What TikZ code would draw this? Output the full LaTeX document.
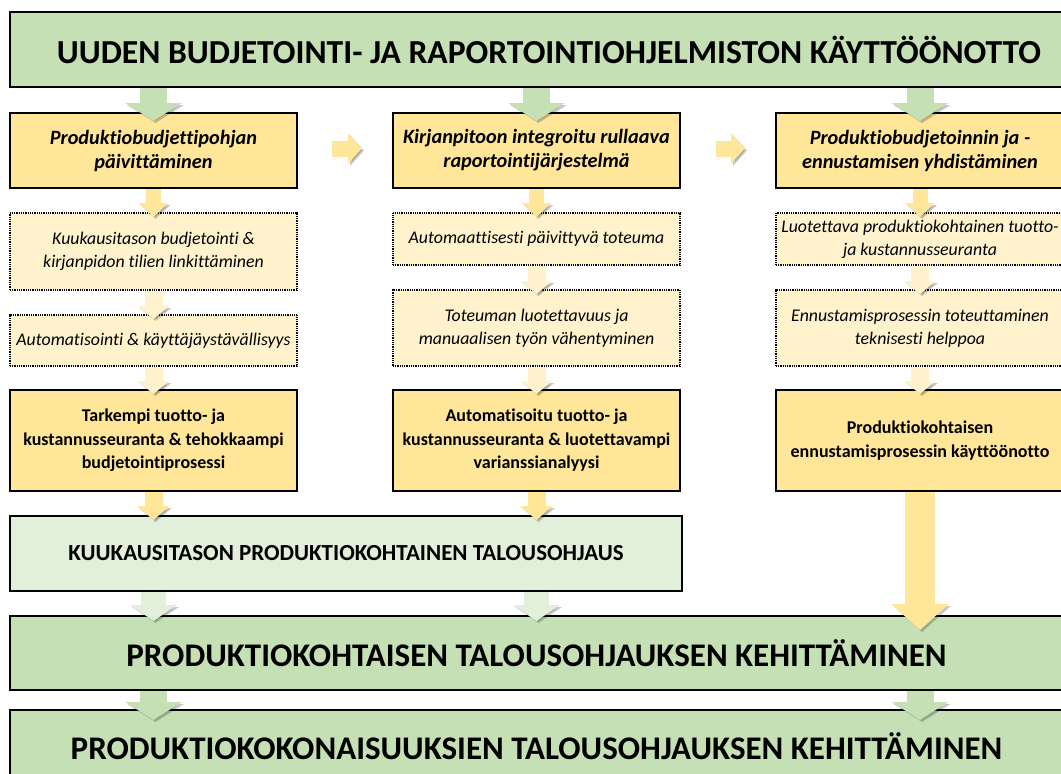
\documentclass[tikz,border=0pt]{standalone}
\usepackage{fontspec}
\setmainfont{Carlito}[Ligatures={NoCommon,NoContextual}]
\usetikzlibrary{arrows.meta}
\definecolor{bangreen}{HTML}{C5E0B4}
\definecolor{lightgreen}{HTML}{E2EFDA}
\definecolor{gold}{HTML}{FFE699}
\definecolor{cream}{HTML}{FFF2CC}
\begin{document}
\begin{tikzpicture}[x=1pt,y=-1pt,
  base/.style={anchor=north west, inner sep=0pt, outer sep=0pt, align=center, text=black},
  banner/.style={base, draw=black, line width=2pt, fill=bangreen, font=\bfseries\fontsize{33}{36}\selectfont},
  subbanner/.style={base, draw=black, line width=2pt, fill=lightgreen, font=\bfseries\fontsize{23}{26}\selectfont},
  headbox/.style={base, draw=black, line width=2pt, fill=gold, font=\bfseries\itshape\fontsize{20.3}{24}\selectfont},
  dotbox/.style={base, draw=black, line width=1.2pt, dash pattern=on 1pt off 0.8pt, fill=cream, font=\itshape\fontsize{17.8}{23}\selectfont},
  resbox/.style={base, draw=black, line width=2pt, fill=gold, font=\bfseries\fontsize{18}{23.5}\selectfont},
  fatarrow/.style n args={4}{line width=#2, draw=#1, -{Triangle[width=#3,length=#4]}},
  shadowed/.style={preaction={draw=black, opacity=0.22, transform canvas={shift={(2pt,-2pt)}}}},
]
\useasboundingbox (0,0) rectangle (1061,774);
\clip (0,0) rectangle (1061,774);

% banners
\node[banner, minimum width=1078pt, minimum height=75pt, font=\bfseries\fontsize{33.6}{36}\selectfont] (top) at (10,12) {UUDEN BUDJETOINTI- JA RAPORTOINTIOHJELMISTON KÄYTTÖÖNOTTO};

% column headers
\node[headbox, minimum width=287pt, minimum height=75pt] (h1) at (10,113) {Produktiobudjettipohjan\\päivittäminen};
\node[headbox, minimum width=287pt, minimum height=75pt] (h2) at (393,113) {Kirjanpitoon integroitu rullaava\\raportointijärjestelmä};
\node[headbox, minimum width=288pt, minimum height=75pt] (h3) at (776,113) {Produktiobudjetoinnin ja -\\ennustamisen yhdistäminen};

% dotted boxes
\node[dotbox, minimum width=287pt, minimum height=77pt] (d11) at (10,213) {Kuukausitason budjetointi \&\\kirjanpidon tilien linkittäminen};
\node[dotbox, minimum width=287pt, minimum height=51pt] (d12) at (10,315) {Automatisointi \& käyttäjäystävällisyys};
\node[dotbox, minimum width=287pt, minimum height=52pt] (d21) at (393,213) {Automaattisesti päivittyvä toteuma};
\node[dotbox, minimum width=287pt, minimum height=76pt] (d22) at (393,290) {Toteuman luotettavuus ja\\manuaalisen työn vähentyminen};
\node[dotbox, minimum width=288pt, minimum height=52pt] (d31) at (776,213) {Luotettava produktiokohtainen tuotto-\\ja kustannusseuranta};
\node[dotbox, minimum width=288pt, minimum height=76pt] (d32) at (776,290) {Ennustamisprosessin toteuttaminen\\teknisesti helppoa};

% result boxes
\node[resbox, minimum width=287pt, minimum height=101pt] (b1) at (10,390) {Tarkempi tuotto- ja\\kustannusseuranta \& tehokkaampi\\budjetointiprosessi};
\node[resbox, minimum width=287pt, minimum height=101pt] (b2) at (393,390) {Automatisoitu tuotto- ja\\kustannusseuranta \& luotettavampi\\varianssianalyysi};
\node[resbox, minimum width=288pt, minimum height=101pt] (b3) at (776,390) {Produktiokohtaisen\\ennustamisprosessin käyttöönotto};

% lower banners
\node[subbanner, minimum width=672pt, minimum height=75pt] (kuuk) at (10,516) {KUUKAUSITASON PRODUKTIOKOHTAINEN TALOUSOHJAUS};
\node[banner, minimum width=1053pt, minimum height=74pt] (mid) at (10,616) {PRODUKTIOKOHTAISEN TALOUSOHJAUKSEN KEHITTÄMINEN};
\node[banner, minimum width=1053pt, minimum height=72pt] (bot) at (10,710) {PRODUKTIOKOKONAISUUKSIEN TALOUSOHJAUKSEN KEHITTÄMINEN};

% arrows: top banner -> headers
\foreach \h in {h1,h2,h3}{
  \draw[fatarrow={bangreen}{27pt}{56pt}{18pt}, shadowed, shorten <=1pt, shorten >=-8pt] (\h.north |- top.south) -- (\h.north);
}
% horizontal arrows between headers
\draw[fatarrow={gold}{16pt}{30pt}{14pt}, shadowed, shorten <=35pt, shorten >=31pt] ([yshift=2pt]h1.east) -- ([yshift=2pt]h2.west);
\draw[fatarrow={gold}{16pt}{30pt}{14pt}, shadowed, shorten <=36pt, shorten >=31pt] ([yshift=2pt]h2.east) -- ([yshift=2pt]h3.west);

% header -> dotted
\foreach \a/\b in {h1/d11,h2/d21,h3/d31}{
  \draw[fatarrow={gold}{15pt}{29pt}{14pt}, shadowed, shorten <=1pt, shorten >=-4pt] (\a.south) -- (\b.north);
}
% dotted -> dotted, dotted -> result
\foreach \a/\b in {d11/d12,d21/d22,d31/d32,d12/b1,d22/b2,d32/b3}{
  \draw[fatarrow={cream}{18pt}{31pt}{13pt}, shadowed, shorten <=1pt, shorten >=-4pt] (\a.south) -- (\b.north);
}
% results -> kuukausitason
\draw[fatarrow={gold}{18pt}{32pt}{14pt}, shadowed, shorten <=1pt, shorten >=-4pt] (b1.south) -- (b1.south |- kuuk.north);
\draw[fatarrow={gold}{18pt}{32pt}{14pt}, shadowed, shorten <=1pt, shorten >=-4pt] (b2.south) -- (b2.south |- kuuk.north);
% long arrow col 3
\draw[fatarrow={gold}{30pt}{56pt}{26pt}, shadowed, shorten <=1pt, shorten >=-14pt] (b3.south) -- (b3.south |- mid.north);
% kuukausitason -> mid
\draw[fatarrow={lightgreen}{25pt}{46pt}{16pt}, shadowed, shorten <=1pt, shorten >=-5pt] (kuuk.south -| b1.south) -- (mid.north -| b1.south);
\draw[fatarrow={lightgreen}{25pt}{46pt}{16pt}, shadowed, shorten <=1pt, shorten >=-5pt] (kuuk.south -| b2.south) -- (mid.north -| b2.south);
% mid -> bottom
\draw[fatarrow={bangreen}{27pt}{56pt}{18pt}, shadowed, shorten <=1pt, shorten >=-10pt] (mid.south -| b1.south) -- (bot.north -| b1.south);
\draw[fatarrow={bangreen}{27pt}{56pt}{18pt}, shadowed, shorten <=1pt, shorten >=-10pt] (mid.south -| b3.south) -- (bot.north -| b3.south);
\end{tikzpicture}
\end{document}
